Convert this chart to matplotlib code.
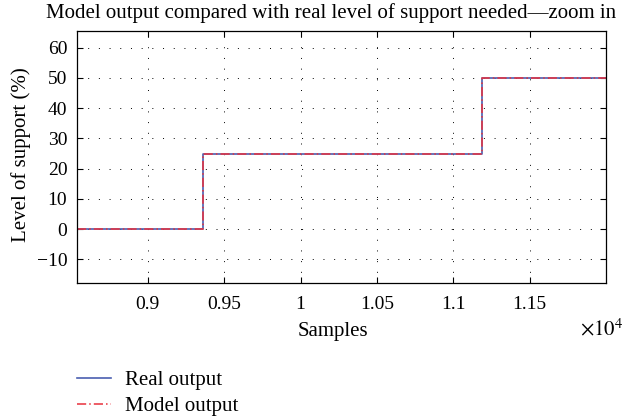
import matplotlib.pyplot as plt
from matplotlib.ticker import FixedLocator, FuncFormatter
from matplotlib.lines import Line2D

# step edges in samples and the support level held after each edge
sample_edges = [8536, 9364, 11188, 12000]
real_level = [0, 25, 50, 50]
model_level = [0, 25, 50, 50]

x_ticks = [9000, 9500, 10000, 10500, 11000, 11500]
y_ticks = [-10, 0, 10, 20, 30, 40, 50, 60]


def main():
    plt.rcParams['font.family'] = ['Liberation Serif', 'DejaVu Serif']
    plt.rcParams['mathtext.fontset'] = 'stix'
    tick_fs = 14
    lab_fs = 15

    fig = plt.figure(figsize=(6.23, 4.19), dpi=100)
    ax = fig.add_axes([0.1236, 0.3239, 0.8491, 0.6028])

    ax.step(sample_edges, real_level, where='post', color='#4a5fb0',
            linewidth=1.2, label='Real output')
    ax.step(sample_edges, model_level, where='post', color='#e8303c',
            linewidth=1.1, linestyle=(0, (6, 2, 1, 2)), label='Model output')

    ax.set_xlim(8536, 12000)
    ax.set_ylim(-17.9, 65.6)
    ax.xaxis.set_major_locator(FixedLocator(x_ticks))
    ax.yaxis.set_major_locator(FixedLocator(y_ticks))
    ax.xaxis.set_major_formatter(FuncFormatter(lambda v, p: f"{v / 1e4:g}"))
    ax.yaxis.set_major_formatter(
        FuncFormatter(lambda v, p: f"\u2212{-v:g}" if v < 0 else f"{v:g}"))

    ax.tick_params(direction='in', length=4, width=0.8, labelsize=tick_fs,
                   top=True, right=True)
    ax.tick_params(axis='x', pad=9)
    ax.tick_params(axis='y', pad=7)
    ax.grid(True, color='black', linestyle=(0, (1, 10)), linewidth=0.7)
    for s in ax.spines.values():
        s.set_linewidth(0.9)

    fig.text(0.532, 0.969, 'Model output compared with real level of support needed\u2014zoom in',
             ha='center', va='center', fontsize=lab_fs)
    fig.text(0.535, 0.208, 'Samples', ha='center', va='center', fontsize=lab_fs)
    fig.text(0.0345, 0.631, 'Level of support (%)', ha='center', va='center',
             rotation=90, fontsize=lab_fs)
    fig.text(0.931, 0.213, r'$\times10^{4}$', ha='left', va='center', fontsize=lab_fs)

    handles = [Line2D([], [], color='#4a5fb0', linewidth=1.2),
               Line2D([], [], color='#e8303c', linewidth=1.1,
                      linestyle=(0, (6, 2, 1, 2)))]
    fig.legend(handles, ['Real output', 'Model output'], loc='upper left',
               bbox_to_anchor=(0.110, 0.135), frameon=False, fontsize=lab_fs,
               handlelength=1.65, handletextpad=0.67, labelspacing=0.3,
               borderaxespad=0)

    fig.savefig('out.png', dpi=100)


if __name__ == '__main__':
    main()
